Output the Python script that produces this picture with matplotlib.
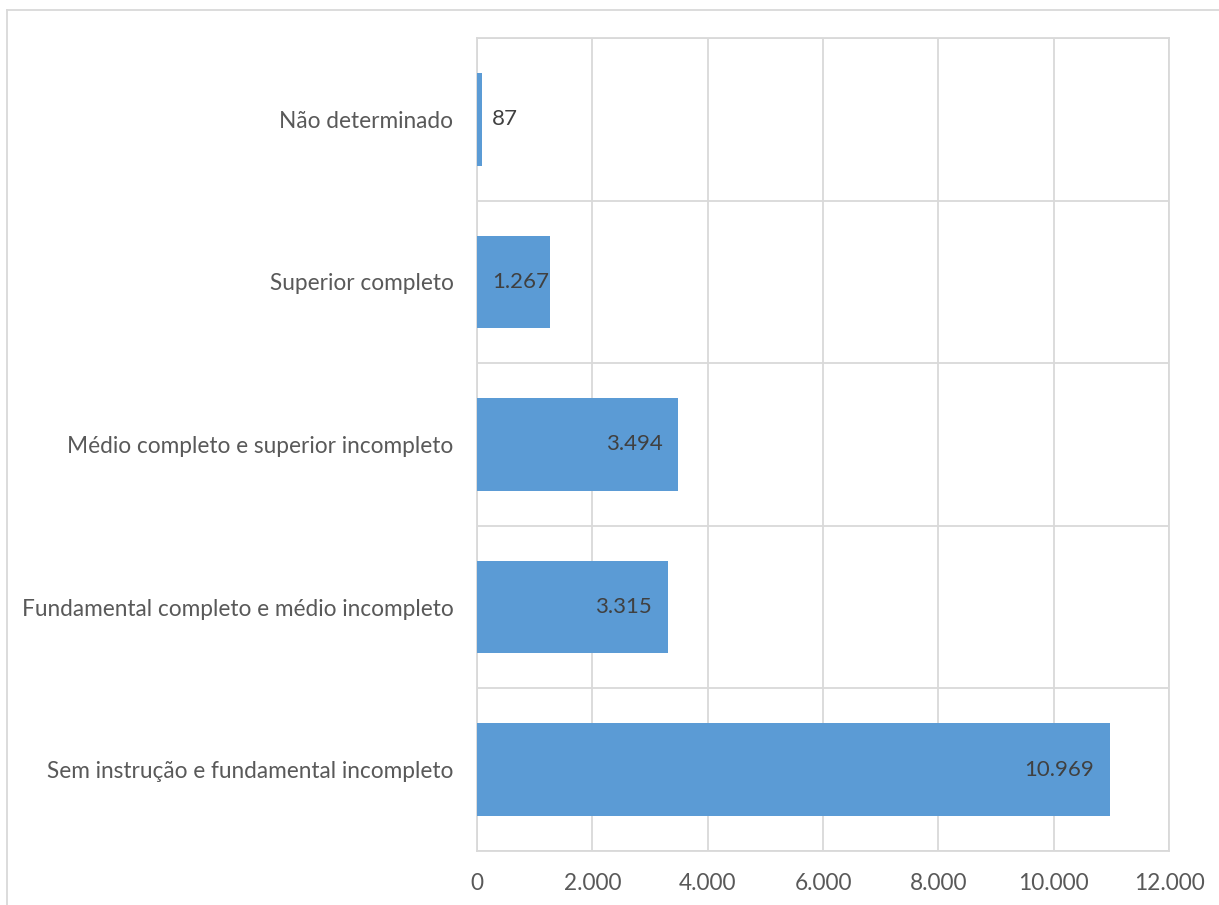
import matplotlib.pyplot as plt
from matplotlib.ticker import FuncFormatter, MultipleLocator
import matplotlib.transforms as mtransforms
import numpy as np

categories = [
    "Sem instrução e fundamental incompleto",
    "Fundamental completo e médio incompleto",
    "Médio completo e superior incompleto",
    "Superior completo",
    "Não determinado",
]
values = [10969, 3315, 3494, 1267, 87]
x_ticks = [0, 2000, 4000, 6000, 8000, 10000, 12000]

bar_color = "#5B9BD5"
grid_color = "#D9D9D9"
plt.rcParams["font.family"] = ["Lato", "DejaVu Sans"]


def fmt_pt(v, pos=None):
    return f"{int(v):,}".replace(",", ".")


fig = plt.figure(figsize=(12.19, 9.05), dpi=100)
ax = fig.add_axes([477 / 1219, 1 - 851 / 905, (1169 - 477) / 1219, (851 - 38) / 905])

y = np.arange(len(categories))
ax.barh(y, values, height=0.57, color=bar_color, zorder=3)

ax.set_xlim(0, 12000)
ax.set_ylim(-0.5, len(categories) - 0.5)
ax.set_xticks(x_ticks)
ax.xaxis.set_major_formatter(FuncFormatter(fmt_pt))
ax.set_yticks(y)
ax.set_yticklabels(categories)
ax.yaxis.set_minor_locator(MultipleLocator(1, offset=0.5))

ax.grid(axis="x", which="major", color=grid_color, lw=1.3, zorder=0)
ax.grid(axis="y", which="minor", color=grid_color, lw=1.3, zorder=0)
for s in ax.spines.values():
    s.set_color(grid_color)
    s.set_linewidth(1.3)
ax.tick_params(axis="both", which="both", length=0, labelsize=16.3, colors="#595959")
ax.tick_params(axis="x", pad=16)
ax.tick_params(axis="y", pad=17)

# value labels, Excel style
for yi, v in zip(y, values):
    if v < 2000:
        off = mtransforms.offset_copy(ax.transData, fig=fig, x=15, y=0, units="dots")
        ax.text(0, yi, fmt_pt(v), ha="left", va="center", fontsize=16,
                color="#404040", transform=off, zorder=4)
    else:
        off = mtransforms.offset_copy(ax.transData, fig=fig, x=-16, y=0, units="dots")
        ax.text(v, yi, fmt_pt(v), ha="right", va="center", fontsize=16,
                color="#404040", transform=off, zorder=4)

# outer chart frame (partially cropped in the original)
fig.add_artist(plt.Line2D([7 / 1219, 1], [1 - 10 / 905] * 2, color=grid_color, lw=1.3))
fig.add_artist(plt.Line2D([7 / 1219] * 2, [0, 1 - 10 / 905], color=grid_color, lw=1.3))

fig.savefig("out.png", dpi=100, facecolor="white")
